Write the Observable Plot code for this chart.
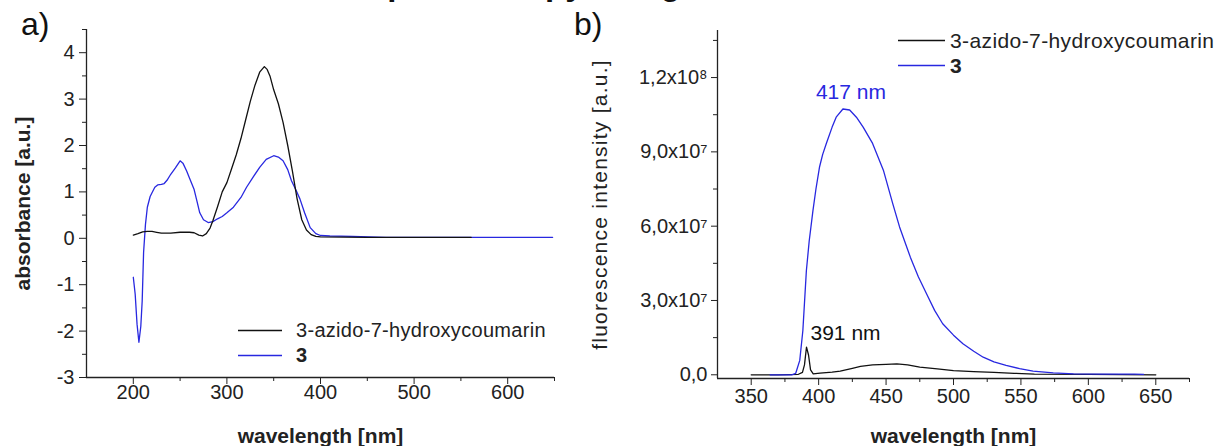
<!DOCTYPE html>
<html>
<head>
<meta charset="utf-8">
<script src="https://cdn.jsdelivr.net/npm/d3@7"></script>
<script src="https://cdn.jsdelivr.net/npm/@observablehq/plot@0.6"></script>
<style>
  html, body { margin: 0; padding: 0; background: #fff; }
  #wrap { position: relative; width: 1219px; height: 446px; overflow: hidden; font-family: "Liberation Sans", Arial, sans-serif; color: #222; }
  .panel { position: absolute; top: 0; }
  .tag { position: absolute; font-size: 32px; line-height: 32px; color: #111; }
  .title { position: absolute; font-size: 33px; line-height: 33px; font-weight: bold; color: #111; white-space: nowrap; }
  .legend { position: absolute; color: #222; }
  .legend .row { display: flex; align-items: center; height: 25px; white-space: nowrap; }
</style>
</head>
<body>
<div id="wrap">
  <div class="title" style="left:369px; top:-33px;">spectroscopy using</div>
  <div class="tag" style="left:21px; top:8px;">a)</div>
  <div class="tag" style="left:574px; top:8px;">b)</div>
  <div id="plotA" class="panel" style="left:0px;"></div>
  <div id="plotB" class="panel" style="left:580px;"></div>
  <div id="legA" class="legend" style="left:238px; top:318px; font-size:20px; letter-spacing:0.3px;"></div>
  <div id="legB" class="legend" style="left:898px; top:28px; font-size:21px; letter-spacing:0.4px;"></div>
</div>
<script>
// ---------- series names / colours ----------
const seriesNames = ["3-azido-7-hydroxycoumarin", "3"];
const seriesColors = ["#111111", "#2828e0"];
const seriesBold = [false, true];

// ---------- a) absorbance ----------
const absXDomain = [150, 650];
const absYDomain = [-3, 4.5];
const absXTicks = [200, 300, 400, 500, 600];
const absXMinor = [250, 350, 450, 550, 650];
const absYTicks = [-3, -2, -1, 0, 1, 2, 3, 4];
const absYMinor = [-2.5, -1.5, -0.5, 0.5, 1.5, 2.5, 3.5, 4.5];

const absWlAzido = [200,205,210,215,220,225,230,240,250,260,265,270,274,278,282,285,290,295,300,305,310,315,320,325,330,335,340,343,346,350,355,360,365,370,375,380,385,390,395,400,450,500,561];
const absAzido   = [0.07,0.10,0.14,0.15,0.15,0.13,0.11,0.11,0.13,0.13,0.12,0.07,0.05,0.10,0.22,0.38,0.68,1.00,1.20,1.50,1.80,2.15,2.55,2.95,3.30,3.58,3.70,3.64,3.50,3.20,2.90,2.50,2.00,1.45,0.85,0.40,0.18,0.08,0.04,0.03,0.02,0.02,0.02];

const absWl3 = [200,202,204,206,208,209.5,211,213,215,218,220,223,226,230,233,236,240,245,250,253,257,260,265,268,271,275,280,285,290,295,300,307,315,321,328,335,342,350,355,360,365,369,374,378,383,389,395,400,410,434,470,565,600,648];
const abs3   = [-0.84,-1.2,-1.85,-2.24,-1.9,-1.35,-0.3,0.3,0.67,0.9,0.98,1.1,1.15,1.16,1.18,1.25,1.38,1.52,1.67,1.62,1.45,1.3,1.05,0.8,0.55,0.4,0.34,0.36,0.42,0.47,0.55,0.67,0.88,1.1,1.32,1.53,1.7,1.78,1.75,1.67,1.48,1.24,1.03,0.85,0.55,0.23,0.1,0.06,0.05,0.04,0.02,0.02,0.02,0.02];

// ---------- b) fluorescence ----------
const fluXDomain = [325, 675];
const fluYDomain = [-1.5e6, 1.39e8];
const fluXTicks = [350, 400, 450, 500, 550, 600, 650];
const fluXMinor = [375, 425, 475, 525, 575, 625, 675];
const fluYTicks = [0, 3e7, 6e7, 9e7, 1.2e8];
const fluYTickLabels = ["0,0", "3,0x10\u2077", "6,0x10\u2077", "9,0x10\u2077", "1,2x10\u2078"];
const fluYMinor = [1.5e7, 4.5e7, 7.5e7, 1.05e8, 1.35e8];

const fluWlAzido = [350,370,385,388,389.5,391,392.5,394,396,401,410,416,425,431,440,450,458,466,475,488,500,515,530,545,560,600,650];
const fluAzido   = [0,0,2e5,1e6,4e6,1.12e7,8e6,2e6,4e5,7e5,1.1e6,1.5e6,2.6e6,3.4e6,4.0e6,4.2e6,4.4e6,4.0e6,3.1e6,2.4e6,1.7e6,1.3e6,1.0e6,6e5,3e5,1.5e5,0];

const fluWl3 = [364,380,383,386,388.3,390.9,393,395.8,398,400.7,403,405.7,410,413,418,423,428,433,440,448,455,460,468,474,480,486,492,500,507,515,522,530,539,549,559,574,589,610,634,641];
const flu3   = [0,0,0.6e6,5.8e6,1.79e7,4.2e7,5.4e7,6.64e7,7.5e7,8.4e7,8.9e7,9.34e7,1.0e8,1.04e8,1.073e8,1.069e8,1.04e8,1.0e8,9.34e7,8.26e7,6.9e7,5.97e7,4.75e7,3.95e7,3.27e7,2.6e7,2.06e7,1.6e7,1.25e7,9.5e6,7.1e6,5.2e6,3.8e6,2.5e6,1.5e6,8e5,4e5,3e5,3e5,2e5];

const peakLabels = ["391 nm", "417 nm"];
const absYLabel = "absorbance [a.u.]";
const fluYLabel = "fluorescence intensity [a.u.]";
const xLabel = "wavelength [nm]";

// ---------- build ----------
const toRows = (xs, ys) => xs.map((x, i) => ({x, y: ys[i]}));
const fontFam = '"Liberation Sans", Arial, sans-serif';
const axisColor = "#222";

const absAzidoRows = toRows(absWlAzido, absAzido);
const abs3Rows = toRows(absWl3, abs3);
const fluAzidoRows = toRows(fluWlAzido, fluAzido);
const flu3Rows = toRows(fluWl3, flu3);

function peakOf(rows) { return rows.reduce((a, b) => (b.y > a.y ? b : a)); }
const pkAz = peakOf(fluAzidoRows);
const pk3 = peakOf(flu3Rows);

const plotA = Plot.plot({
  width: 580, height: 446,
  marginLeft: 86, marginRight: 26, marginTop: 29, marginBottom: 69,
  x: {domain: absXDomain},
  y: {domain: absYDomain},
  style: {fontFamily: fontFam, fontSize: "20px", color: axisColor, background: "transparent", overflow: "visible"},
  marks: [
    Plot.ruleX([absXDomain[0]], {stroke: axisColor, strokeWidth: 1.3}),
    Plot.ruleY([absYDomain[0]], {stroke: axisColor, strokeWidth: 1.3}),
    Plot.axisX({ticks: absXMinor, tickSize: 4, tickFormat: () => "", label: null}),
    Plot.axisX({ticks: absXTicks, tickSize: 7, tickPadding: 0, tickFormat: d => String(d), label: null}),
    Plot.axisX({ticks: [], tickSize: 0, label: xLabel, labelAnchor: "center", labelOffset: 65, labelArrow: "none", fontWeight: "bold", fontSize: 21}),
    Plot.axisY({ticks: absYMinor, tickSize: 4, tickFormat: () => "", label: null}),
    Plot.axisY({ticks: absYTicks, tickSize: 7, tickPadding: 5, tickFormat: d => String(d), label: null}),
    Plot.axisY({ticks: [], tickSize: 0, label: absYLabel, labelAnchor: "center", labelOffset: 71, labelArrow: "none", fontWeight: "bold", fontSize: 21}),
    Plot.line(abs3Rows, {x: "x", y: "y", stroke: seriesColors[1], strokeWidth: 1.3}),
    Plot.line(absAzidoRows, {x: "x", y: "y", stroke: seriesColors[0], strokeWidth: 1.3})
  ]
});
document.getElementById("plotA").appendChild(plotA);

const plotB = Plot.plot({
  width: 639, height: 446,
  marginLeft: 137, marginRight: 30, marginTop: 30, marginBottom: 68,
  x: {domain: fluXDomain},
  y: {domain: fluYDomain},
  style: {fontFamily: fontFam, fontSize: "20px", color: axisColor, background: "transparent", overflow: "visible"},
  marks: [
    Plot.ruleX([fluXDomain[0]], {stroke: axisColor, strokeWidth: 1.3}),
    Plot.ruleY([fluYDomain[0]], {stroke: axisColor, strokeWidth: 1.3}),
    Plot.axisX({ticks: fluXMinor, tickSize: 4, tickFormat: () => "", label: null}),
    Plot.axisX({ticks: fluXTicks, tickSize: 7, tickPadding: 3, tickFormat: d => String(d), label: null}),
    Plot.axisX({ticks: [], tickSize: 0, label: xLabel, labelAnchor: "center", labelOffset: 64, labelArrow: "none", fontWeight: "bold", fontSize: 21}),
    Plot.axisY({ticks: fluYMinor, tickSize: 4, tickFormat: () => "", label: null}),
    Plot.axisY({ticks: fluYTicks, tickSize: 6, tickPadding: 4, tickFormat: d => fluYTickLabels[fluYTicks.indexOf(d)], label: null}),
    Plot.axisY({ticks: [], tickSize: 0, label: fluYLabel, labelAnchor: "center", labelOffset: 125, labelArrow: "none", fontSize: 21}),
    Plot.line(fluAzidoRows, {x: "x", y: "y", stroke: seriesColors[0], strokeWidth: 1.3}),
    Plot.line(flu3Rows, {x: "x", y: "y", stroke: seriesColors[1], strokeWidth: 1.3}),
    Plot.text([pkAz], {x: "x", y: "y", text: () => peakLabels[0], textAnchor: "start", dx: 4, dy: -14, fill: seriesColors[0], fontSize: 21}),
    Plot.text([pk3], {x: "x", y: "y", text: () => peakLabels[1], textAnchor: "middle", dx: 8, dy: -17, fill: seriesColors[1], fontSize: 21})
  ]
});
document.getElementById("plotB").appendChild(plotB);

// wider tracking on the fluorescence axis title, as in the reference
d3.select(plotB).selectAll("text")
  .filter(function () { return this.textContent === fluYLabel; })
  .style("letter-spacing", "1.25px");

// ---------- legends ----------
function buildLegend(id, lineW, gap) {
  const el = document.getElementById(id);
  seriesNames.forEach((name, i) => {
    const row = document.createElement("div");
    row.className = "row";
    row.innerHTML = `<svg width="${lineW}" height="25" style="margin-right:${gap}px"><line x1="0" x2="${lineW}" y1="12.5" y2="12.5" stroke="${seriesColors[i]}" stroke-width="1.4"/></svg>`;
    const span = document.createElement("span");
    span.textContent = name;
    if (seriesBold[i]) span.style.fontWeight = "bold";
    row.appendChild(span);
    el.appendChild(row);
  });
}
buildLegend("legA", 44, 14);
buildLegend("legB", 47, 5);
</script>
</body>
</html>
